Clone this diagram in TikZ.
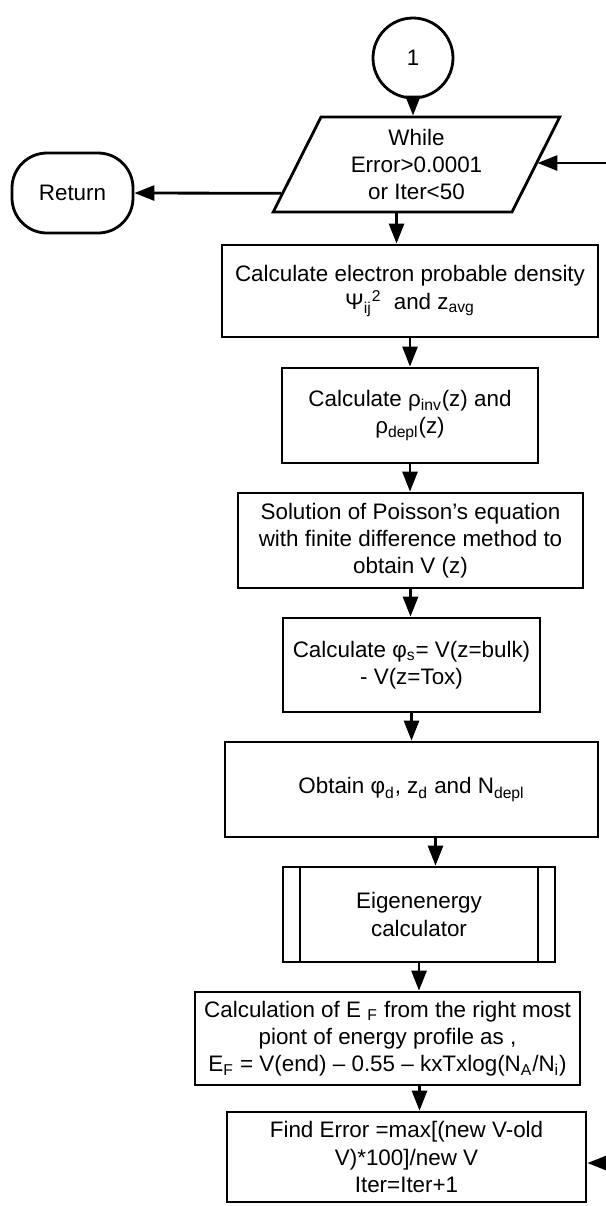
\documentclass[tikz,border=0pt]{standalone}
\usepackage{fontspec}
\setmainfont{Liberation Sans}
\usetikzlibrary{shapes.geometric,arrows.meta}

\tikzset{
    txt/.style={font=\fontsize{12.75}{15.5}\selectfont, align=center},
    flow/.style={line width=1.6pt},
    arr/.style={flow, -{Triangle[length=0.4cm,width=0.3cm]}},
    procbox/.style={txt, draw, flow, rectangle, inner sep=1pt},
    subbox/.style={procbox, path picture={
        \draw[flow] ([xshift=0.34cm]path picture bounding box.north west) -- ([xshift=0.34cm]path picture bounding box.south west);
        \draw[flow] ([xshift=-0.34cm]path picture bounding box.north east) -- ([xshift=-0.34cm]path picture bounding box.south east);}},
    iobox/.style={txt, draw, flow, trapezium, trapezium left angle=65.6, trapezium right angle=114.4,
        trapezium stretches=true, minimum width=5.74cm, minimum height=1.9cm, inner sep=1pt},
    termbox/.style={txt, draw, flow, rounded corners=0.7cm, minimum width=2.42cm, minimum height=1.6cm},
    connnode/.style={txt, draw, flow, circle, minimum size=1.6cm}
}

\begin{document}
\begin{tikzpicture}
    \useasboundingbox (0,0) rectangle (12.12,-24.12);

    \node[connnode] (cir) at (8.26,-1.16) {1};
    \node[iobox] (par) at (8.33,-3.29) {While\\Error>0.0001\\or Iter<50};
    \node[termbox] (ret) at (1.45,-3.86) {Return};
    \node[procbox, minimum width=7.52cm, minimum height=1.84cm] (ele) at (8.20,-5.82)
        {Calculate electron probable density\\Ψ\textsubscript{ij}\textsuperscript{2}\ \ and z\textsubscript{avg}};
    \node[procbox, minimum width=5.12cm, minimum height=1.9cm] (rho) at (8.20,-8.31)
        {Calculate ρ\textsubscript{inv}(z) and\\ρ\textsubscript{depl}(z)};
    \node[procbox, minimum width=6.9cm, minimum height=1.9cm] (poi) at (8.21,-10.81)
        {Solution of Poisson's equation\\with finite difference method to\\obtain V (z)};
    \node[procbox, minimum width=5.14cm, minimum height=1.88cm] (phis) at (8.23,-13.30)
        {Calculate φ\textsubscript{s}= V(z=bulk)\\- V(z=Tox)};
    \node[procbox, minimum width=7.46cm, minimum height=1.9cm] (obt) at (8.23,-15.79)
        {Obtain φ\textsubscript{d}, z\textsubscript{d} and N\textsubscript{depl}};
    \node[subbox, minimum width=5.44cm, minimum height=1.9cm] (eig) at (8.38,-18.29)
        {Eigenenergy\\calculator};
    \node[procbox, minimum width=7.7cm, minimum height=1.86cm] (ef) at (7.75,-20.77)
        {Calculation of E \textsubscript{F} from the right most\\piont of energy profile as ,\\E\textsubscript{F} = V(end) -- 0.55 -- kxTxlog(N\textsubscript{A}/N\textsubscript{i})};
    \node[procbox, minimum width=7.18cm, minimum height=1.8cm] (err) at (8.13,-23.14)
        {Find Error =max[(new V-old\\V)*100]/new V\\Iter=Iter+1};

    % loop returns coming in from the right
    \coordinate (rin1) at (12.12,-3.26);
    \coordinate (rin2) at (12.12,-23.26);

    \draw[arr] (cir.south) -- (cir.south |- par.north);
    \draw[arr] (par.192) -- (ret.east);
    \draw[arr] (rin1) -- (rin1 -| par.east);
    \draw[arr] ([xshift=-0.4cm]par.south) -- ([xshift=-0.4cm]par.south |- ele.north);
    \draw[arr] (ele.south) -- (ele.south |- rho.north);
    \draw[arr] (rho.south) -- (rho.south |- poi.north);
    \draw[arr] (poi.south) -- (poi.south |- phis.north);
    \draw[arr] (phis.south) -- (phis.south |- obt.north);
    \draw[arr] ([xshift=0.48cm]obt.south) -- ([xshift=0.48cm]obt.south |- eig.north);
    \draw[arr] (eig.south) -- (eig.south |- ef.north);
    \draw[arr] ([xshift=0.26cm]err.north |- ef.south) -- ([xshift=0.26cm]err.north);
    \draw[arr] (rin2) -- (rin2 -| err.east);
\end{tikzpicture}
\end{document}
